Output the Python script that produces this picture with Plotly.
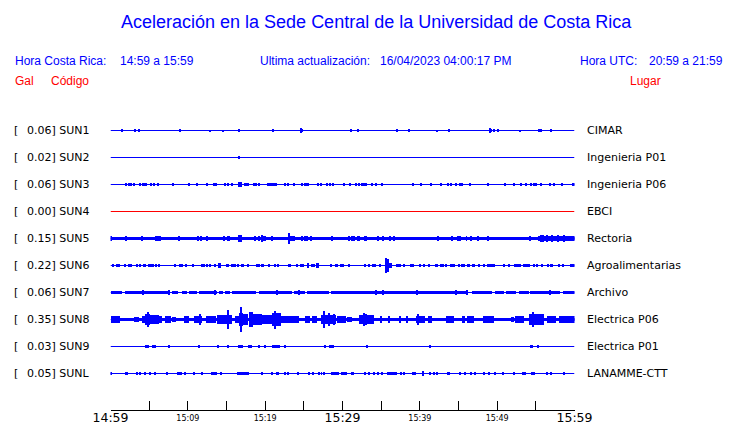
import plotly.graph_objects as go

# ---------------- data ----------------
STATIONS = ["SUN1", "SUN2", "SUN3", "SUN4", "SUN5", "SUN6", "SUN7", "SUN8", "SUN9", "SUNL"]
PLACES = ["CIMAR", "Ingenieria P01", "Ingenieria P06", "EBCI", "Rectoria",
          "Agroalimentarias", "Archivo", "Electrica P06", "Electrica P01", "LANAMME-CTT"]
PEAK_GAL = [0.06, 0.02, 0.06, 0.00, 0.15, 0.22, 0.06, 0.35, 0.03, 0.05]
# background noise half-amplitude (Gal) over the whole hour
NOISE_GAL = [0.0, 0.0, 0.0, 0.0, 0.05, 0.0, 0.0, 0.055, 0.0, 0.0]

TICK_MINUTES = [0, 5, 10, 15, 20, 25, 30, 35, 40, 45, 50, 55, 60]
MAJOR_TICK_MIN = [0, 30, 60]
MAJOR_TICK_LABELS = ["14:59", "15:29", "15:59"]
MINOR_TICK_MIN = [10, 20, 40, 50]
MINOR_TICK_LABELS = ["15:09", "15:19", "15:39", "15:49"]

# bursts: (minute after 14:59, duration in minutes, half-amplitude in Gal)
SUN1_EVENTS = [(1.45, 0.25, 0.042), (3.08, 0.13, 0.042), (3.6, 0.2, 0.045), (8.9, 0.13, 0.042),
               (12.78, 0.13, 0.025), (14.46, 0.13, 0.025), (16.55, 0.22, 0.042), (20.9, 0.13, 0.042),
               (24.6, 0.13, 0.068), (24.75, 0.2, 0.04), (31.0, 0.13, 0.042), (32.0, 0.13, 0.028),
               (36.96, 0.13, 0.042), (38.5, 0.13, 0.03), (42.1, 0.13, 0.025), (43.7, 0.13, 0.042),
               (49.0, 0.13, 0.068), (49.15, 0.15, 0.045), (49.5, 0.13, 0.042), (50.1, 0.25, 0.042),
               (52.9, 0.13, 0.025), (55.3, 0.13, 0.042), (55.6, 0.25, 0.042), (56.9, 0.13, 0.042)]
SUN2_EVENTS = [(16.6, 0.15, 0.04)]
SUN3_EVENTS = [(1.96, 0.13, 0.028), (2.31, 0.13, 0.042), (2.56, 0.13, 0.028), (3.0, 0.2, 0.042),
               (3.73, 0.13, 0.028), (4.12, 0.13, 0.035), (4.29, 0.13, 0.028), (4.59, 0.13, 0.042),
               (5.15, 0.13, 0.028), (5.5, 0.13, 0.028), (6.06, 0.13, 0.035), (8.04, 0.13, 0.028),
               (10.06, 0.13, 0.035), (11.14, 0.13, 0.028), (12.39, 0.13, 0.028), (13.34, 0.13, 0.042),
               (13.56, 0.13, 0.035), (14.72, 0.13, 0.042), (15.07, 0.13, 0.035), (15.67, 0.15, 0.042),
               (16.66, 0.5, 0.06), (17.31, 0.13, 0.042), (17.52, 0.13, 0.028), (17.74, 0.13, 0.035),
               (18.47, 0.13, 0.042), (18.73, 0.2, 0.035), (19.12, 0.13, 0.028), (20.28, 0.13, 0.028),
               (20.58, 0.13, 0.042), (20.84, 0.13, 0.035), (21.06, 0.13, 0.035), (21.36, 0.25, 0.035),
               (22.56, 0.13, 0.042), (22.91, 0.15, 0.042), (23.64, 0.13, 0.035), (24.72, 0.13, 0.042),
               (25.06, 0.13, 0.028), (25.45, 0.25, 0.042), (26.75, 0.13, 0.042), (27.13, 0.13, 0.035),
               (27.87, 0.13, 0.028), (28.34, 0.13, 0.028), (28.77, 0.15, 0.042), (30.13, 0.13, 0.035),
               (30.88, 0.13, 0.028), (31.66, 0.13, 0.035), (32.05, 0.13, 0.035), (32.44, 0.13, 0.035),
               (32.7, 0.13, 0.028), (33.04, 0.2, 0.042), (33.73, 0.13, 0.028), (34.24, 0.13, 0.035),
               (35.02, 0.13, 0.028), (39.03, 0.13, 0.035), (40.07, 0.13, 0.028), (41.36, 0.13, 0.028),
               (42.65, 0.13, 0.028), (43.56, 0.13, 0.028), (43.95, 0.13, 0.035), (44.59, 0.13, 0.035),
               (45.11, 0.13, 0.035), (45.37, 0.13, 0.028), (46.4, 0.13, 0.028), (48.73, 0.13, 0.035),
               (50.93, 0.13, 0.035), (52.09, 0.13, 0.035), (52.99, 0.13, 0.035), (53.64, 0.13, 0.035),
               (54.29, 0.13, 0.035), (54.68, 0.13, 0.035), (54.93, 0.13, 0.035), (55.58, 0.13, 0.035),
               (56.74, 0.13, 0.035), (57.26, 0.13, 0.028), (58.29, 0.13, 0.035), (59.85, 0.25, 0.042)]
SUN4_EVENTS = []
SUN5_EVENTS = [(0.06, 0.13, 0.07), (2.0, 0.13, 0.083), (4.03, 0.13, 0.07), (6.0, 0.5, 0.075),
               (6.4, 0.13, 0.083), (8.77, 0.13, 0.075), (11.23, 0.13, 0.075), (11.7, 0.13, 0.065),
               (12.35, 0.13, 0.075), (14.59, 0.13, 0.07), (15.15, 0.35, 0.08), (16.7, 0.5, 0.095),
               (18.6, 0.13, 0.075), (19.2, 0.13, 0.07), (19.5, 0.13, 0.11), (19.76, 0.6, 0.08),
               (20.84, 0.13, 0.07), (23.0, 0.13, 0.145), (23.5, 0.6, 0.08), (24.72, 0.13, 0.07),
               (25.15, 0.13, 0.075), (25.37, 0.2, 0.075), (25.84, 0.13, 0.075), (28.64, 0.13, 0.075),
               (30.75, 0.13, 0.075), (31.1, 0.13, 0.07), (31.4, 0.13, 0.075), (32.0, 0.35, 0.08),
               (32.9, 0.35, 0.08), (34.5, 0.13, 0.07), (35.15, 0.13, 0.075), (36.06, 0.13, 0.07),
               (36.57, 0.13, 0.07), (42.3, 0.3, 0.07), (44.07, 0.13, 0.07), (44.93, 0.13, 0.07),
               (45.19, 0.13, 0.075), (45.97, 0.13, 0.07), (46.49, 0.13, 0.07), (47.52, 0.13, 0.07),
               (48.73, 0.13, 0.07), (54.16, 0.13, 0.07), (57.6, 4.8, 0.062), (55.71, 0.5, 0.095),
               (56.4, 0.13, 0.085), (57.09, 0.13, 0.085), (57.48, 0.13, 0.08), (57.78, 0.13, 0.085),
               (58.64, 0.13, 0.085)]
SUN6_EVENTS = [(0.34, 0.2, 0.042), (0.93, 0.45, 0.042), (1.75, 0.13, 0.042), (2.44, 0.45, 0.042),
               (3.38, 0.13, 0.042), (3.73, 0.13, 0.042), (4.33, 0.4, 0.042), (5.15, 0.8, 0.042),
               (5.84, 0.13, 0.042), (6.27, 0.25, 0.042), (8.25, 0.3, 0.042), (8.9, 0.13, 0.042),
               (9.2, 0.13, 0.042), (9.72, 0.13, 0.042), (10.58, 0.13, 0.042), (11.88, 0.5, 0.042),
               (12.35, 0.13, 0.042), (12.82, 0.3, 0.042), (13.43, 0.13, 0.042), (14.03, 0.5, 0.065),
               (15.07, 0.5, 0.042), (15.8, 0.6, 0.042), (16.44, 0.13, 0.042), (16.88, 0.13, 0.042),
               (17.13, 0.13, 0.042), (17.74, 0.13, 0.042), (19.0, 0.45, 0.042), (19.6, 0.25, 0.042),
               (20.41, 0.13, 0.042), (21.19, 0.13, 0.042), (21.62, 0.13, 0.042), (23.08, 0.35, 0.042),
               (24.03, 0.3, 0.042), (24.72, 0.45, 0.042), (25.49, 0.35, 0.065), (25.93, 0.13, 0.042),
               (26.31, 0.13, 0.042), (26.75, 0.4, 0.065), (28.47, 0.13, 0.042), (29.12, 0.4, 0.042),
               (29.9, 0.45, 0.042), (30.84, 0.25, 0.042), (32.9, 0.13, 0.042), (33.34, 0.13, 0.042),
               (33.9, 0.13, 0.042), (34.2, 0.13, 0.042), (34.76, 0.3, 0.042), (35.9, 1.0, 0.07),
               (35.5, 0.13, 0.22), (35.8, 0.13, 0.17), (37.2, 0.6, 0.042), (37.95, 0.13, 0.042),
               (38.9, 0.55, 0.042), (40.02, 0.13, 0.042), (40.46, 0.13, 0.042), (41.1, 0.3, 0.042),
               (42.09, 0.45, 0.042), (42.82, 0.45, 0.042), (43.34, 0.13, 0.042), (44.2, 0.65, 0.042),
               (44.98, 0.3, 0.042), (45.5, 0.45, 0.042), (46.23, 0.35, 0.042), (46.88, 0.3, 0.042),
               (47.6, 0.35, 0.042), (48.21, 0.13, 0.042), (49.16, 1.1, 0.042), (50.8, 0.13, 0.042),
               (51.44, 0.13, 0.042), (52.52, 0.9, 0.042), (53.77, 0.95, 0.042), (54.76, 0.13, 0.042),
               (55.11, 0.13, 0.042), (55.76, 0.25, 0.042), (56.53, 0.13, 0.042), (56.96, 0.3, 0.042),
               (57.91, 0.13, 0.042), (58.47, 0.13, 0.042), (59.6, 0.55, 0.042), (59.9, 0.13, 0.042)]
SUN7_EVENTS = [(0.68, 1.36, 0.04), (4.635, 5.69, 0.04), (8.3, 0.78, 0.04), (9.485, 0.73, 0.04),
               (10.6, 1.08, 0.04), (12.585, 2.29, 0.04), (14.2, 0.52, 0.04), (15.085, 0.73, 0.04),
               (17.18, 3.02, 0.04), (21.3, 4.2, 0.04), (24.35, 1.42, 0.04), (26.74, 2.84, 0.04),
               (37.31, 17.78, 0.04), (48.0, 2.59, 0.04), (50.195, 1.21, 0.04), (51.77, 1.26, 0.04),
               (53.35, 1.3, 0.04), (56.15, 3.9, 0.04), (59.2, 1.6, 0.04),
               (4.12, 0.13, 0.065), (7.48, 0.13, 0.065), (13.5, 0.13, 0.065), (21.5, 0.13, 0.065),
               (24.3, 0.13, 0.065), (34.3, 0.13, 0.065), (35.2, 0.13, 0.065), (39.6, 0.13, 0.065),
               (44.6, 0.13, 0.065), (46.0, 0.13, 0.065), (56.8, 0.13, 0.065)]
SUN8_EVENTS = [(0.6, 1.2, 0.09), (3.27, 0.65, 0.07), (4.25, 0.43, 0.085), (4.78, 0.64, 0.15),
               (4.8, 0.13, 0.215), (5.65, 1.09, 0.13), (6.4, 0.43, 0.085), (7.37, 0.65, 0.1),
               (8.12, 0.44, 0.07), (9.74, 0.64, 0.085), (11.25, 1.08, 0.1), (11.49, 0.13, 0.14),
               (12.87, 1.29, 0.085), (14.7, 1.94, 0.13), (15.15, 0.13, 0.26), (16.27, 0.52, 0.11),
               (16.79, 0.52, 0.17), (16.79, 0.13, 0.35), (17.4, 0.69, 0.14), (18.68, 1.73, 0.165),
               (17.91, 0.13, 0.21), (18.26, 0.13, 0.195), (20.2, 1.29, 0.125), (21.38, 1.08, 0.19),
               (21.2, 0.3, 0.25), (22.35, 0.86, 0.11), (23.53, 1.51, 0.085), (25.47, 0.65, 0.085),
               (26.33, 0.66, 0.1), (28.06, 1.94, 0.13), (27.52, 0.13, 0.235), (28.17, 0.13, 0.17),
               (28.81, 0.13, 0.155), (29.8, 1.07, 0.1), (30.86, 0.64, 0.07), (33.02, 1.94, 0.13),
               (32.7, 0.13, 0.18), (32.91, 0.13, 0.155), (34.85, 0.13, 0.085), (35.93, 0.13, 0.085),
               (37.35, 0.13, 0.085), (38.3, 0.13, 0.085), (40.08, 1.17, 0.11), (39.68, 0.13, 0.14),
               (41.25, 0.56, 0.085), (43.8, 1.08, 0.085), (45.62, 0.43, 0.085), (46.53, 0.94, 0.1),
               (48.8, 1.38, 0.085), (51.88, 0.43, 0.07), (52.84, 1.08, 0.1), (55.0, 1.94, 0.165),
               (54.59, 0.13, 0.21), (56.9, 1.17, 0.085), (58.95, 2.1, 0.1)]
SUN9_EVENTS = [(4.67, 0.43, 0.042), (5.41, 0.13, 0.042), (5.75, 0.13, 0.042), (7.48, 0.13, 0.028),
               (11.36, 0.13, 0.028), (13.86, 0.13, 0.028), (15.15, 0.13, 0.042), (16.74, 0.6, 0.042),
               (18.0, 0.45, 0.042), (19.15, 0.3, 0.042), (19.9, 0.13, 0.028), (21.33, 1.0, 0.042),
               (22.48, 0.13, 0.028), (27.65, 0.3, 0.042), (28.55, 0.7, 0.042), (33.04, 0.13, 0.042),
               (41.3, 0.13, 0.042), (54.4, 0.4, 0.042), (55.2, 0.13, 0.042)]
SUNL_EVENTS = [(0.06, 0.13, 0.042), (2.0, 0.4, 0.042), (3.38, 0.13, 0.042), (3.73, 0.13, 0.042),
               (4.46, 0.13, 0.042), (4.98, 0.13, 0.042), (5.67, 0.3, 0.042), (7.26, 0.13, 0.042),
               (8.86, 0.65, 0.042), (9.63, 0.13, 0.042), (10.71, 0.13, 0.042), (11.79, 0.13, 0.042),
               (13.3, 0.85, 0.042), (14.16, 0.13, 0.042), (17.05, 1.5, 0.042), (19.55, 0.13, 0.042),
               (20.76, 0.13, 0.042), (21.49, 0.43, 0.042), (22.56, 0.13, 0.042), (22.91, 0.13, 0.042),
               (24.16, 0.2, 0.042), (25.58, 0.13, 0.042), (26.14, 0.13, 0.042), (26.88, 0.13, 0.042),
               (27.22, 0.13, 0.042), (27.52, 0.13, 0.042), (28.95, 1.1, 0.042), (29.9, 0.13, 0.042),
               (30.19, 0.65, 0.042), (31.19, 0.43, 0.042), (32.9, 0.13, 0.042), (33.34, 0.13, 0.042),
               (33.99, 0.13, 0.042), (34.5, 0.13, 0.042), (35.02, 0.13, 0.042), (36.35, 1.3, 0.042),
               (37.52, 0.13, 0.042), (37.95, 0.13, 0.042), (39.2, 0.56, 0.042), (40.36, 0.2, 0.07),
               (41.23, 0.13, 0.042), (41.75, 0.13, 0.042), (42.18, 0.13, 0.042), (43.6, 0.43, 0.042),
               (45.11, 0.3, 0.042), (45.84, 0.13, 0.042), (46.57, 0.13, 0.042), (47.05, 0.13, 0.042),
               (48.29, 0.13, 0.042), (48.84, 0.13, 0.042), (49.66, 0.35, 0.042), (50.71, 0.13, 0.042),
               (52.09, 0.13, 0.042), (53.39, 0.43, 0.042), (54.59, 0.56, 0.042), (56.4, 0.13, 0.042),
               (56.9, 0.13, 0.042), (58.64, 0.13, 0.042)]

EVENTS = [SUN1_EVENTS, SUN2_EVENTS, SUN3_EVENTS, SUN4_EVENTS, SUN5_EVENTS,
          SUN6_EVENTS, SUN7_EVENTS, SUN8_EVENTS, SUN9_EVENTS, SUNL_EVENTS]

# ---------------- styles / layout ----------------
BLUE = "#0000ff"
RED = "#ff0000"
TRACE_COLORS = [BLUE, BLUE, BLUE, RED, BLUE, BLUE, BLUE, BLUE, BLUE, BLUE]
W, H = 740, 423
ROW_SPACING = 0.75          # Gal between trace baselines (27 px)
PX_PER_GAL = 36.0
ROW0_PX = 130.5
Y_TOP_PX, Y_BOT_PX = 112, 392
X0_PX, X1_PX = 110.5, 574.5
AXIS_PX = 409.5
LABEL_FONT = "DejaVu Sans"
HEAD_FONT = "Liberation Sans, Arial"


def px(x):
    return x / W


def py(y):
    return 1 - y / H


fig = go.Figure()

for i, st in enumerate(STATIONS):
    off = -i * ROW_SPACING
    col = TRACE_COLORS[i]
    xs, ws, bs, hs = [], [], [], []
    if NOISE_GAL[i] > 0:
        xs.append(30.0); ws.append(60.0)
        bs.append(off - NOISE_GAL[i]); hs.append(2 * NOISE_GAL[i])
    for t, d, a in EVENTS[i]:
        xs.append(t); ws.append(d); bs.append(off - a); hs.append(2 * a)
    fig.add_trace(go.Scatter(x=[0, 60], y=[off, off], mode="lines",
                             line=dict(color=col, width=1), hoverinfo="skip", showlegend=False))
    if xs:
        fig.add_trace(go.Bar(x=xs, y=hs, base=bs, width=ws, marker=dict(color=col, line=dict(width=0)),
                             hoverinfo="skip", showlegend=False))

# empty trace registering the overlay axis for the small time labels
fig.add_trace(go.Scatter(x=[0], y=[None], xaxis="x2", yaxis="y", mode="lines",
                         hoverinfo="skip", showlegend=False))

major_text = []
for m in TICK_MINUTES:
    major_text.append(MAJOR_TICK_LABELS[MAJOR_TICK_MIN.index(m)] if m in MAJOR_TICK_MIN else "")

y_top = (ROW0_PX - Y_TOP_PX) / PX_PER_GAL
y_bot = (ROW0_PX - Y_BOT_PX) / PX_PER_GAL

annotations = []


def ann(text, x, y, size, color, family, xanchor="left"):
    annotations.append(dict(text=text, x=px(x), y=py(y), xref="paper", yref="paper",
                            xanchor=xanchor, yanchor="middle", showarrow=False,
                            borderpad=0, borderwidth=0,
                            font=dict(size=size, color=color, family=family)))


ann("Aceleración en la Sede Central de la Universidad de Costa Rica", 376, 22, 18, BLUE, HEAD_FONT, "center")
ann("Hora Costa Rica:", 15, 61, 12, BLUE, HEAD_FONT)
ann("14:59 a 15:59", 120, 61, 12, BLUE, HEAD_FONT)
ann("Ultima actualización:", 260, 61, 12, BLUE, HEAD_FONT)
ann("16/04/2023 04:00:17 PM", 380, 61, 12, BLUE, HEAD_FONT)
ann("Hora UTC:", 580, 61, 12, BLUE, HEAD_FONT)
ann("20:59 a 21:59", 649, 61, 12, BLUE, HEAD_FONT)
ann("Gal", 15, 81, 12, RED, HEAD_FONT)
ann("Código", 51, 81, 12, RED, HEAD_FONT)
ann("Lugar", 630, 81, 12, RED, HEAD_FONT)

for i, st in enumerate(STATIONS):
    yrow = ROW0_PX + 27 * i
    ann("[", 14, yrow, 11, "black", LABEL_FONT)
    ann(f"{PEAK_GAL[i]:.2f}] {st}", 26.5, yrow, 11, "black", LABEL_FONT)
    ann(PLACES[i], 586.5, yrow, 11, "black", LABEL_FONT)

fig.update_layout(
    width=W, height=H, margin=dict(l=0, r=0, t=0, b=0, pad=0, autoexpand=False),
    paper_bgcolor="white", plot_bgcolor="white",
    showlegend=False, barmode="overlay", bargap=0,
    xaxis=dict(domain=[px(X0_PX), px(X1_PX)], range=[0, 60], anchor="free", position=py(AXIS_PX),
               showline=True, linecolor="black", linewidth=1,
               ticks="inside", ticklen=9, tickwidth=1, tickcolor="black",
               tickmode="array", tickvals=TICK_MINUTES, ticktext=major_text,
               tickfont=dict(family=LABEL_FONT, size=12.5, color="black"), ticklabelstandoff=-4,
               showgrid=False, zeroline=False, fixedrange=True, automargin=False),
    xaxis2=dict(overlaying="x", range=[0, 60], anchor="free", position=py(AXIS_PX),
                showline=False, ticks="", tickmode="array", tickvals=MINOR_TICK_MIN,
                ticktext=MINOR_TICK_LABELS,
                tickfont=dict(family=LABEL_FONT, size=8, color="black"), ticklabelstandoff=2,
                showgrid=False, zeroline=False, fixedrange=True, automargin=False),
    yaxis=dict(domain=[py(Y_BOT_PX), py(Y_TOP_PX)], range=[y_bot, y_top],
               showgrid=False, zeroline=False, showticklabels=False, showline=False,
               ticks="", fixedrange=True, automargin=False),
    annotations=annotations,
)

fig.write_html("out.html", config={"displayModeBar": False},
               post_script="document.body.style.margin='0';document.body.style.overflow='hidden';")
